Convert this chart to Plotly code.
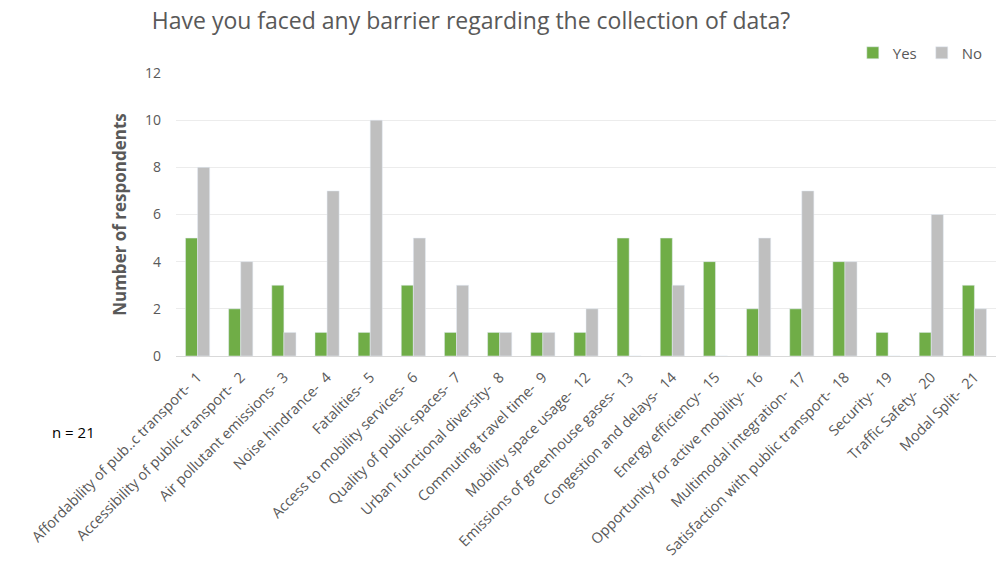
import plotly.graph_objects as go

categories = [
    "Affordability of pub..c transport-\u00a0 1",
    "Accessibility of public transport-\u00a0 2",
    "Air pollutant emissions-\u00a0 3",
    "Noise hindrance-\u00a0 4",
    "Fatalities-\u00a0 5",
    "Access to mobility services-\u00a0 6",
    "Quality of public spaces-\u00a0 7",
    "Urban functional diversity-\u00a0 8",
    "Commuting travel time-\u00a0 9",
    "Mobility space usage-\u00a0 12",
    "Emissions of greenhouse gases-\u00a0 13",
    "Congestion and delays-\u00a0 14",
    "Energy efficiency-\u00a0 15",
    "Opportunity for active mobility-\u00a0 16",
    "Multimodal integration-\u00a0 17",
    "Satisfaction with public transport-\u00a0 18",
    "Security-\u00a0 19",
    "Traffic Safety-\u00a0 20",
    "Modal Split-\u00a0 21",
]
yes_vals = [5, 2, 3, 1, 1, 3, 1, 1, 1, 1, 5, 5, 4, 2, 2, 4, 1, 1, 3]
no_vals = [8, 4, 1, 7, 10, 5, 3, 1, 1, 2, 0, 3, 0, 5, 7, 4, 0, 6, 2]
y_ticks = [0, 2, 4, 6, 8, 10, 12]

FONT = "Open Sans"
GRAY_TXT = "#595959"
PLOT_W = 1002 - 176 - 6
PLOT_H = 565 - 73 - 209

fig = go.Figure()
fig.add_trace(go.Bar(name="Yes", x=categories, y=yes_vals, marker_color="#70AD47"))
fig.add_trace(go.Bar(name="No", x=categories, y=no_vals, marker_color="#BFBFBF"))

fig.update_layout(
    width=1002, height=565,
    margin=dict(l=176, r=6, t=73, b=209, autoexpand=False),
    paper_bgcolor="white", plot_bgcolor="white",
    barmode="group", bargap=0.44, bargroupgap=0,
    font=dict(family=FONT, color=GRAY_TXT, size=13),
    title=dict(text="Have you faced any barrier regarding the collection of data?",
               x=471 / 1002, xanchor="center", y=1 - 21 / 565, yanchor="middle",
               font=dict(size=23, color=GRAY_TXT, family=FONT)),
    legend=dict(orientation="h", x=0.99, xanchor="right", y=(565 - 209 - 53) / PLOT_H,
                yanchor="middle",
                font=dict(size=15, color=GRAY_TXT), traceorder="normal",
                itemwidth=30),
    showlegend=True,
)
fig.update_xaxes(tickangle=-45, showgrid=False, showline=True, linecolor="#d9d9d9",
                 linewidth=1, ticks="", ticklabelstandoff=6, automargin=False,
                 tickfont=dict(size=14.5, color=GRAY_TXT))
fig.update_yaxes(range=[0, 12], tickvals=y_ticks, showgrid=True, gridcolor="#ececec",
                 zeroline=False, showline=False, ticks="", ticklabelstandoff=14,
                 automargin=False,
                 tickfont=dict(size=14, color=GRAY_TXT),
                 title=dict(text="<b>Number of respondents</b>", standoff=14,
                            font=dict(size=17, color=GRAY_TXT)))
fig.add_annotation(text="n = 21", xref="paper", yref="paper",
                   x=(50 - 176) / PLOT_W, y=(565 - 209 - 432) / PLOT_H,
                   xanchor="left", yanchor="middle", showarrow=False,
                   font=dict(size=15, color="black", family=FONT))

fig.write_html("out.html")
